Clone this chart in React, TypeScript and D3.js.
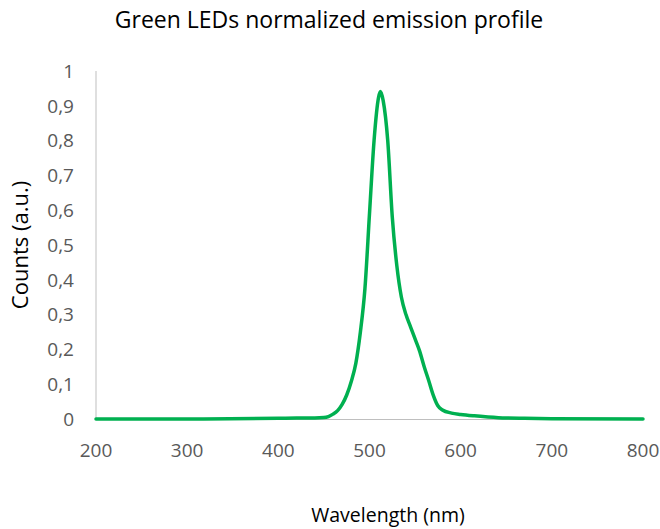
import React from "react";
import * as d3 from "d3";

const wavelengths = [200, 300, 400, 420, 440, 450, 455, 460, 465, 470, 475, 480, 485, 490, 495, 500, 505, 510, 512, 515, 520, 525, 530, 535, 540, 545, 550, 555, 560, 565, 570, 575, 580, 590, 600, 615, 630, 650, 670, 700, 800];
const counts = [0, 0, 0.002, 0.003, 0.003, 0.004, 0.007, 0.014, 0.024, 0.042, 0.069, 0.108, 0.16, 0.25, 0.375, 0.59, 0.8, 0.925, 0.941, 0.915, 0.8, 0.58, 0.44, 0.35, 0.3, 0.265, 0.23, 0.195, 0.15, 0.11, 0.068, 0.038, 0.026, 0.017, 0.013, 0.009, 0.006, 0.003, 0.002, 0.001, 0];
const xTicks = [200, 300, 400, 500, 600, 700, 800];
const yTicks = [0, 0.1, 0.2, 0.3, 0.4, 0.5, 0.6, 0.7, 0.8, 0.9, 1];

const title = "Green LEDs normalized emission profile";
const xLabel = "Wavelength (nm)";
const yLabel = "Counts (a.u.)";

export default function App() {
  const W = 660, H = 529;
  const x = d3.scaleLinear().domain([200, 800]).range([96, 643]);
  const y = d3.scaleLinear().domain([0, 1]).range([419, 71]);
  const data = wavelengths.map((w, i) => [w, counts[i]] as [number, number]);
  const line = d3.line<[number, number]>().x(d => x(d[0])).y(d => y(d[1])).curve(d3.curveMonotoneX);
  const font = "'Open Sans', sans-serif";
  const fmt = (v: number) => (v === 0 ? "0" : v === 1 ? "1" : d3.format(".1f")(v).replace(".", ","));
  return (
    <svg width={W} height={H} style={{ position: "absolute", left: 0, top: 0, background: "#fff" }} fontFamily={font}>
      <rect width={W} height={H} fill="#fff" />
      <text x={329} y={28} textAnchor="middle" fontSize={23} fill="#000">{title}</text>
      <line x1={96} x2={96} y1={71} y2={419} stroke="#BFBFBF" strokeWidth={1} />
      <line x1={96} x2={643} y1={419.5} y2={419.5} stroke="#BFBFBF" strokeWidth={1} />
      {yTicks.map(t => (
        <text key={t} x={74} y={y(t)} dy="0.36em" textAnchor="end" fontSize={19} fill="#595959">{fmt(t)}</text>
      ))}
      {xTicks.map(t => (
        <text key={t} x={x(t)} y={457} textAnchor="middle" fontSize={19} fill="#595959">{t}</text>
      ))}
      <path d={line(data) || ""} fill="none" stroke="#00B050" strokeWidth={3.5} strokeLinejoin="round" strokeLinecap="round" />
      <text x={388} y={522} textAnchor="middle" fontSize={19.5} fill="#000">{xLabel}</text>
      <text transform={`translate(28,245) rotate(-90)`} textAnchor="middle" fontSize={22} fill="#000">{yLabel}</text>
    </svg>
  );
}
